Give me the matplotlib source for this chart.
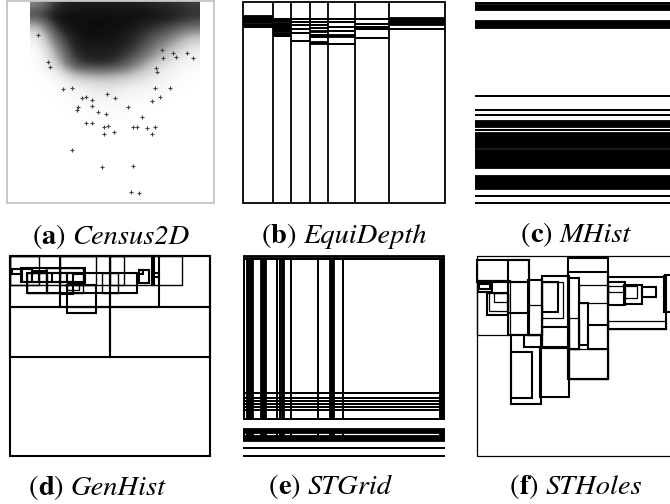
import matplotlib
matplotlib.use("Agg")
import matplotlib.pyplot as plt
import numpy as np
from matplotlib.patches import Rectangle
from matplotlib.offsetbox import TextArea, HPacker, AnchoredOffsetbox

# ---------------------------------------------------------------------------
# (a) Census2D: density of the point cloud (rows top->bottom, cols left->right)
census_density = np.array([
    [0.55, 0.85, 0.90, 0.90, 0.90, 0.90, 0.90, 0.85, 0.85, 0.80],
    [0.80, 0.95, 0.95, 0.95, 0.95, 0.95, 0.95, 0.95, 0.90, 0.85],
    [0.40, 0.90, 0.95, 0.95, 0.95, 0.95, 0.90, 0.85, 0.80, 0.70],
    [0.15, 0.75, 0.92, 0.95, 0.95, 0.92, 0.85, 0.75, 0.60, 0.40],
    [0.05, 0.55, 0.90, 0.92, 0.92, 0.90, 0.80, 0.60, 0.40, 0.20],
    [0.00, 0.40, 0.85, 0.90, 0.90, 0.85, 0.70, 0.45, 0.25, 0.10],
    [0.00, 0.25, 0.75, 0.85, 0.85, 0.75, 0.50, 0.25, 0.12, 0.05],
    [0.00, 0.05, 0.35, 0.45, 0.45, 0.40, 0.28, 0.15, 0.05, 0.00],
    [0.00, 0.03, 0.12, 0.18, 0.22, 0.18, 0.12, 0.10, 0.03, 0.00],
    [0.00, 0.00, 0.05, 0.10, 0.15, 0.08, 0.05, 0.05, 0.00, 0.00],
    [0.00, 0.00, 0.03, 0.05, 0.05, 0.05, 0.02, 0.00, 0.00, 0.00],
    [0.00, 0.00, 0.00, 0.02, 0.02, 0.02, 0.00, 0.00, 0.00, 0.00],
])
census_extent = (23, 193, 119, -1)
# sparse tuples outside the dense core
census_x = [31, 41, 43, 56, 65, 75, 79, 85, 85, 70, 71, 91, 99, 100, 108, 121,
            135, 145, 148, 153, 163, 180, 186, 79, 85, 97, 101, 107, 97, 126,
            130, 140, 148, 145, 65, 95, 126, 124, 132, 149, 156, 166, 169, 150, 155]
census_y = [34, 61, 66, 88, 87, 97, 96, 99, 105, 109, 106, 111, 113, 93, 97, 106,
            116, 100, 87, 96, 87, 52, 57, 122, 122, 126, 125, 131, 133, 126,
            126, 127, 126, 133, 149, 166, 165, 191, 192, 67, 57, 52, 56, 71, 49]

# (b) EquiDepth: column splits and the row splits inside each column
equidepth_cols = [0, 30.3, 48, 67, 84.7, 112, 146, 202]
equidepth_rows = [
    [(14, 21.3), (22.7, 22.7), (25.3, 25.3)],
    [(17, 17), (19, 19), (21.3, 29.7), (32, 32), (34, 34)],
    [(17, 17), (19.7, 19.7), (23, 23), (27.3, 27.3), (31.3, 31.3), (38.7, 38.7)],
    [(17, 17), (19.7, 19.7), (23, 23), (25.7, 25.7), (29, 30.3), (33, 33),
     (34.7, 34.7), (40.3, 42.3)],
    [(17, 17), (19.7, 19.7), (24.7, 24.7), (28.7, 28.7), (33, 34.7), (42.3, 42.3)],
    [(17, 17), (22, 22), (24.7, 24.7), (27.3, 27.3), (35.7, 35.7)],
    [(16.3, 23), (27, 27)],
]

# (c) MHist: horizontal bucket boundaries (clusters given as spans)
mhist_rows = [(0.5, 0.5), (3, 8), (19, 25.7), (93.8, 93.8), (107.8, 107.8),
              (112.8, 112.8), (119, 124.7), (127.8, 127.8), (130.7, 146.3),
              (148, 165.7), (174, 179.7), (181, 187), (193.5, 193.5),
              (200.8, 200.8)]

# (d) GenHist buckets (x0, y0, x1, y1)
genhist_heavy = [
    (0, 0, 200, 200), (0, 0, 200, 50.7), (0, 50.7, 100, 100.7),
    (100, 50.7, 200, 100.7), (50, 0, 100, 50.7), (100, 0, 149.3, 50.7),
    (141.7, 0, 144, 29), (56.7, 29, 85.7, 57.3), (17.3, 17.3, 127.3, 37.3),
    (10.7, 12.3, 75, 26.3), (11.7, 13.3, 21.7, 25.7), (21.7, 14.7, 29.3, 25.7),
    (29.3, 14.7, 36.7, 25.7), (41.7, 17.3, 50, 25.7), (50, 17.3, 56.7, 25.7),
    (56.7, 17.3, 63.3, 26.3), (63.3, 18, 75, 27.3), (50, 25.7, 63.3, 38.3),
    (129.3, 14, 133.3, 18), (129.3, 14, 139.3, 26.7), (144, 16.7, 149.3, 21.3),
    (1.7, 13.3, 10.7, 18),
]
genhist_light = [
    (0, 0, 171.7, 29), (0, 0, 29.3, 29), (100, 0, 114, 29), (50, 0, 85.7, 29),
    (36, 12.3, 73.3, 37.3), (56.7, 27.3, 69, 34), (17.3, 17.3, 36.7, 37.3),
    (91.7, 17.3, 108.3, 37.3),
]

# (e) STGrid: grid lines / clusters of lines
stgrid_rows = [(0, 1.3), (3.3, 3.3), (136.7, 136.7), (142.3, 142.3),
               (145.3, 145.3), (147.5, 147.5), (151, 151), (153.7, 153.7),
               (163, 163), (173.3, 177.3), (180, 185), (192.3, 192.3),
               (199.7, 199.7)]
stgrid_cols = [(1.3, 1.3), (3.5, 9.7), (18, 22.7), (34.3, 34.3), (36.7, 36.7),
               (38.7, 41.3), (47.7, 47.7), (74.7, 74.7), (87.3, 90.7),
               (100.3, 100.3), (197, 197), (199.3, 199.3), (201, 201)]
stgrid_col_spans = [(3.3, 163), (177.3, 180)]

# (f) STHoles buckets (x0, y0, x1, y1)
stholes_heavy = [
    (0, 4, 52, 25.7), (30.7, 4, 52, 79), (0.7, 26.7, 14.7, 35.7),
    (2, 28.3, 13, 33.3), (9.7, 36.7, 31.3, 59), (31.3, 26.3, 52, 57.3),
    (51.3, 24, 64.7, 79), (64.7, 19.7, 92, 92.3), (64.7, 25.7, 81.3, 55.7),
    (64.7, 71.3, 92, 92.3), (46.7, 79, 64.7, 91.3), (33.7, 79, 63.7, 148),
    (33.7, 95.7, 55.3, 142.3), (63, 91.3, 92, 140.7), (90.7, 2.3, 131.3, 123),
    (90.7, 15.7, 131.3, 123), (92, 22.3, 102.3, 93), (102.3, 47.3, 110.7, 89),
    (110.7, 69, 131.3, 93), (131.3, 25.7, 148, 49), (147.3, 29, 165.3, 48),
    (165.3, 30.7, 178.7, 40.7), (187.3, 19, 198, 55.7), (131.3, 21.3, 189, 73),
]
stholes_light = [
    (0, 0, 210, 200), (0, 24, 33, 79), (12.3, 36.7, 31.3, 54.7),
    (17.3, 37.3, 31.3, 45.7), (51.3, 49, 64.7, 79), (64.7, 25.7, 86.3, 62.3),
    (102.3, 29, 131.3, 47.3), (92, 62.3, 102.3, 93), (92, 93, 131.3, 123),
    (131.3, 64.7, 189, 73), (131.3, 30, 147.3, 35.7), (148, 30, 159.7, 42.3),
]

captions = [("a", "Census2D"), ("b", "EquiDepth"), ("c", "MHist"),
            ("d", "GenHist"), ("e", "STGrid"), ("f", "STHoles")]

# ---------------------------------------------------------------------------
W, H = 670, 504
fig = plt.figure(figsize=(W / 100, H / 100), dpi=100)
HEAVY, LIGHT = 1.3, 0.7
SERIF = 'STIXGeneral'
CAP_SIZE = 20.5


def panel(left, top, w, h):
    ax = fig.add_axes([left / W, 1 - (top + h) / H, w / W, h / H])
    ax.set_xticks([])
    ax.set_yticks([])
    for s in ax.spines.values():
        s.set_visible(False)
    return ax, w, h


def finish(ax, w, h):
    ax.set_xlim(0, w)
    ax.set_ylim(h, 0)


def span_lines(ax, spans, lo, hi, horizontal, lw=HEAVY):
    for a, b in spans:
        if horizontal:
            if b - a > 0:
                ax.fill_between([lo, hi], a, b, color='k', lw=0, clip_on=False)
            ax.hlines([a, b], lo, hi, colors='k', lw=lw, clip_on=False)
        else:
            if b - a > 0:
                ax.fill_betweenx([lo, hi], a, b, color='k', lw=0, clip_on=False)
            ax.vlines([a, b], lo, hi, colors='k', lw=lw, clip_on=False)


def rects(ax, boxes, lw):
    for x0, y0, x1, y1 in boxes:
        ax.add_patch(Rectangle((x0, y0), x1 - x0, y1 - y0, fill=False,
                               ec='k', lw=lw, clip_on=False))


def caption(letter, name, cx, cy):
    parts = [("(", 'normal', 'normal'), (letter, 'bold', 'normal'),
             (") ", 'normal', 'normal'), (name, 'normal', 'italic')]
    boxes = [TextArea(t, textprops=dict(fontfamily=SERIF, fontsize=CAP_SIZE,
                                        fontweight=wt, fontstyle=st))
             for t, wt, st in parts]
    pack = HPacker(children=boxes, align='baseline', pad=0, sep=0)
    anchored = AnchoredOffsetbox(loc='center', child=pack, pad=0, frameon=False,
                                 bbox_to_anchor=(cx / W, 1 - cy / H),
                                 bbox_transform=fig.transFigure, borderpad=0)
    fig.add_artist(anchored)


# (a)
ax, w, h = panel(7, 1, 207, 202)
for s in ax.spines.values():
    s.set_visible(True)
    s.set_color('#c4c4c4')
    s.set_linewidth(1.3)
ax.imshow(census_density, cmap='Greys', vmin=0, vmax=1.0, extent=census_extent,
          interpolation='bicubic', aspect='auto')
ax.scatter(census_x, census_y, marker='+', s=9, c='#444444', linewidths=0.8)
finish(ax, w, h)

# (b)
ax, w, h = panel(243, 2, 202, 201)
rects(ax, [(0, 0, w, h)], HEAVY)
ax.vlines(equidepth_cols[1:-1], 0, h, colors='k', lw=HEAVY)
for i, rows in enumerate(equidepth_rows):
    span_lines(ax, rows, equidepth_cols[i], equidepth_cols[i + 1], True)
finish(ax, w, h)

# (c)
ax, w, h = panel(475, 2, 200, 201)
span_lines(ax, mhist_rows, 0, w, True)
finish(ax, w, h)

# (d)
ax, w, h = panel(10, 256, 200, 200)
rects(ax, genhist_light, LIGHT + 0.3)
rects(ax, genhist_heavy, HEAVY + 0.2)
finish(ax, w, h)

# (e)
ax, w, h = panel(243, 256, 202, 200)
span_lines(ax, stgrid_rows, 0, w, True)
for y0, y1 in stgrid_col_spans:
    span_lines(ax, stgrid_cols, y0, y1, False)
finish(ax, w, h)

# (f)
ax, w, h = panel(477, 256, 200, 200)
rects(ax, stholes_light, LIGHT + 0.2)
rects(ax, stholes_heavy, HEAVY + 0.2)
finish(ax, w, h)

# captions
cap_pos = [(111, 237), (344, 236), (576, 235), (97, 488), (330, 487), (576, 487)]
for (letter, name), (cx, cy) in zip(captions, cap_pos):
    caption(letter, name, cx, cy)

fig.savefig("out.png", dpi=100)
